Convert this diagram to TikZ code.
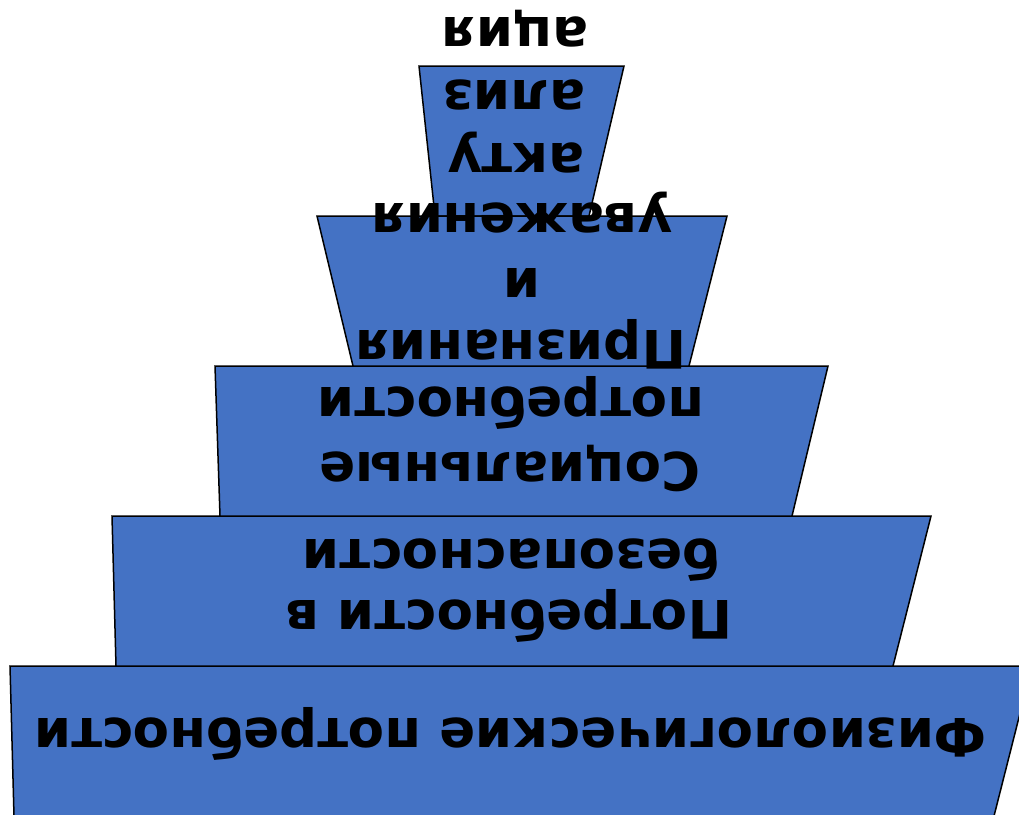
\documentclass[tikz,border=0pt]{standalone}
\usepackage{fontspec}
\newfontfamily\dvsans{DejaVu Sans}
\definecolor{tierblue}{HTML}{4472C4}
\tikzset{
  tier/.style={fill=tierblue, draw=black, line width=1.5pt, line join=miter},
  lbl/.style={font=\dvsans\bfseries\fontsize{53}{64}\selectfont, text=black, rotate=180, anchor=base, inner sep=0pt}
}
\begin{document}
\begin{tikzpicture}[x=1pt, y=-1pt]
\useasboundingbox (0,0) rectangle (1019,814);
\clip (0,0) rectangle (1019,814);
% tiers, bottom to top
\draw[tier] (10,666) -- (1032,666) -- (994,816) -- (14,816) -- cycle;
\draw[tier] (112,516) -- (931,516) -- (893,666) -- (116,666) -- cycle;
\draw[tier] (215,366) -- (828,366) -- (792,516) -- (220,516) -- cycle;
\draw[tier] (419,66) -- (624,66) -- (589,216) -- (435,216) -- cycle;
\draw[tier] (317,216) -- (727,216) -- (689,366) -- (353,366) -- cycle;
% labels (printed upside down)
\node[lbl] (t1) at (510.5,718) {Физиологические потребности};
\node[lbl] (t2a) at (509,600) {Потребности в};
\node[lbl] (t2b) at (511,539) {безопасности};
\node[lbl] (t3a) at (510,452) {Социальные};
\node[lbl] (t3b) at (511,387) {потребности};
\node[lbl] (t4a) at (521,330) {Признания};
\node[lbl] (t4b) at (522,268) {и};
\node[lbl] (t4c) at (522,203) {уважения};
\node[lbl] (t5a) at (516,143) {акту};
\node[lbl] (t5b) at (514,80) {ализ};
\node[lbl] (t5c) at (515,17) {ация};
\end{tikzpicture}
\end{document}
